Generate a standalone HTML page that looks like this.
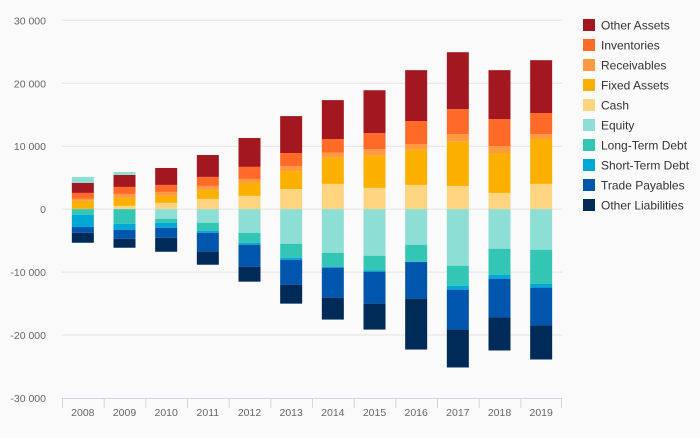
<!DOCTYPE html>
<html><head><meta charset="utf-8"><style>
body{margin:0;background:#fafafa;font-family:"Liberation Sans",sans-serif;}
svg text{font-family:"Liberation Sans",sans-serif;}
</style></head><body>
<svg id="c" width="700" height="433" xmlns="http://www.w3.org/2000/svg">
<rect width="700" height="433" fill="#fafafa"/>
</svg>
<script>
const categories=["2008","2009","2010","2011","2012","2013","2014","2015","2016","2017","2018","2019"];
const yTicks=[30000,20000,10000,0,-10000,-20000,-30000];
const yTickLabels=["30 000","20 000","10 000","0","-10 000","-20 000","-30 000"];
const seriesNames=["Other Assets","Inventories","Receivables","Fixed Assets","Cash","Equity","Long-Term Debt","Short-Term Debt","Trade Payables","Other Liabilities"];
const seriesColors=["#a31820","#ff6a28","#ff9a40","#fbb000","#fdd580","#8ddfd6","#33c6b4","#00a8d6","#0055ad","#002a58"];
const cash=[50,520,1000,1630,2110,3200,4010,3380,3850,3690,2580,4010];
const fixedAssets=[1270,1270,1110,1430,2060,2850,4170,5120,5600,7020,6340,7130];
const receivables=[320,630,630,630,630,810,790,1060,900,1220,1110,790];
const inventories=[940,1110,1110,1430,1920,2060,2170,2530,3640,3960,4270,3330];
const otherAssets=[1590,1910,2690,3480,4580,5860,6180,6800,8090,9040,7780,8400];
const equity=[950,460,-1540,-2170,-3760,-5500,-6930,-7400,-5660,-8990,-6290,-6450];
const longTermDebt=[-900,-2330,-630,-1270,-1580,-2220,-2210,-2330,-2690,-3170,-4120,-5390];
const shortTermDebt=[-1920,-950,-790,-320,-320,-320,-160,-210,-50,-630,-640,-630];
const tradePayables=[-940,-1430,-1590,-2990,-3480,-3960,-4760,-5070,-5820,-6340,-6170,-6020];
const otherLiabilities=[-1580,-1420,-2220,-2080,-2380,-3010,-3480,-4120,-8080,-6020,-5230,-5390];

const NS="http://www.w3.org/2000/svg";
const svg=document.getElementById('c');
const plotL=62,plotR=562,plotT=20.3,plotB=398;
const yMin=-30000,yMax=30000;
function y(v){return plotB-(v-yMin)/(yMax-yMin)*(plotB-plotT);}
const band=(plotR-plotL)/categories.length;
function x(i){return plotL+band*i;}
function mk(tag,attrs){const e=document.createElementNS(NS,tag);for(const k in attrs)e.setAttribute(k,attrs[k]);svg.appendChild(e);return e;}

yTicks.forEach((t,i)=>{
  if(t!==yMin){
    const g=mk('line',{x1:plotL,x2:plotR,y1:y(t),y2:y(t),stroke:'#e4e4e4','stroke-width':1});
    
    
  }
  const tx=mk('text',{x:46,y:y(t)+4,'text-anchor':'end','font-size':10.5,fill:'#666'});
  tx.textContent=yTickLabels[i];
  
  
});
const ax=mk('line',{x1:plotL,x2:plotR,y1:plotB+0.5,y2:plotB+0.5,stroke:'#ccd6eb','stroke-width':1});


categories.forEach((c,i)=>{
  const tk=mk('line',{x1:x(i)+0.5,x2:x(i)+0.5,y1:plotB,y2:plotB+10,stroke:'#ccd6eb'});
  
  
  const tx=mk('text',{x:x(i)+band/2,y:plotB+18,'text-anchor':'middle','font-size':10.5,fill:'#666'});
  tx.textContent=c;
  
  
});
const tkEnd=mk('line',{x1:plotR-0.5,x2:plotR-0.5,y1:plotB,y2:plotB+10,stroke:'#ccd6eb'});



const data=[otherAssets,inventories,receivables,fixedAssets,cash,equity,longTermDebt,shortTermDebt,tradePayables,otherLiabilities];
const posOrder=[4,3,2,1,0,5];
const negOrder=[5,6,7,8,9];
const bw=22;
categories.forEach((c,i)=>{
  let pos=0,neg=0;
  const bx=x(i)+(band-bw)/2;
  posOrder.forEach(s=>{const v=data[s][i];if(v>0){
    const r=mk('rect',{x:bx,y:y(pos+v),width:bw,height:y(pos)-y(pos+v),fill:seriesColors[s]});
    
    
    pos+=v;}});
  negOrder.forEach(s=>{const v=data[s][i];if(v<0){
    const r=mk('rect',{x:bx,y:y(neg),width:bw,height:y(neg+v)-y(neg),fill:seriesColors[s]});
    
    
    neg+=v;}});
});

seriesNames.forEach((n,i)=>{
  const ly=25+i*20;
  const sq=mk('rect',{x:583,y:ly-6,width:12,height:12,fill:seriesColors[i]});
  
  
  const t=mk('text',{x:601,y:ly+4.5,'font-size':12,fill:'#333'});
  t.textContent=n;
  
  
});
</script>
</body></html>
